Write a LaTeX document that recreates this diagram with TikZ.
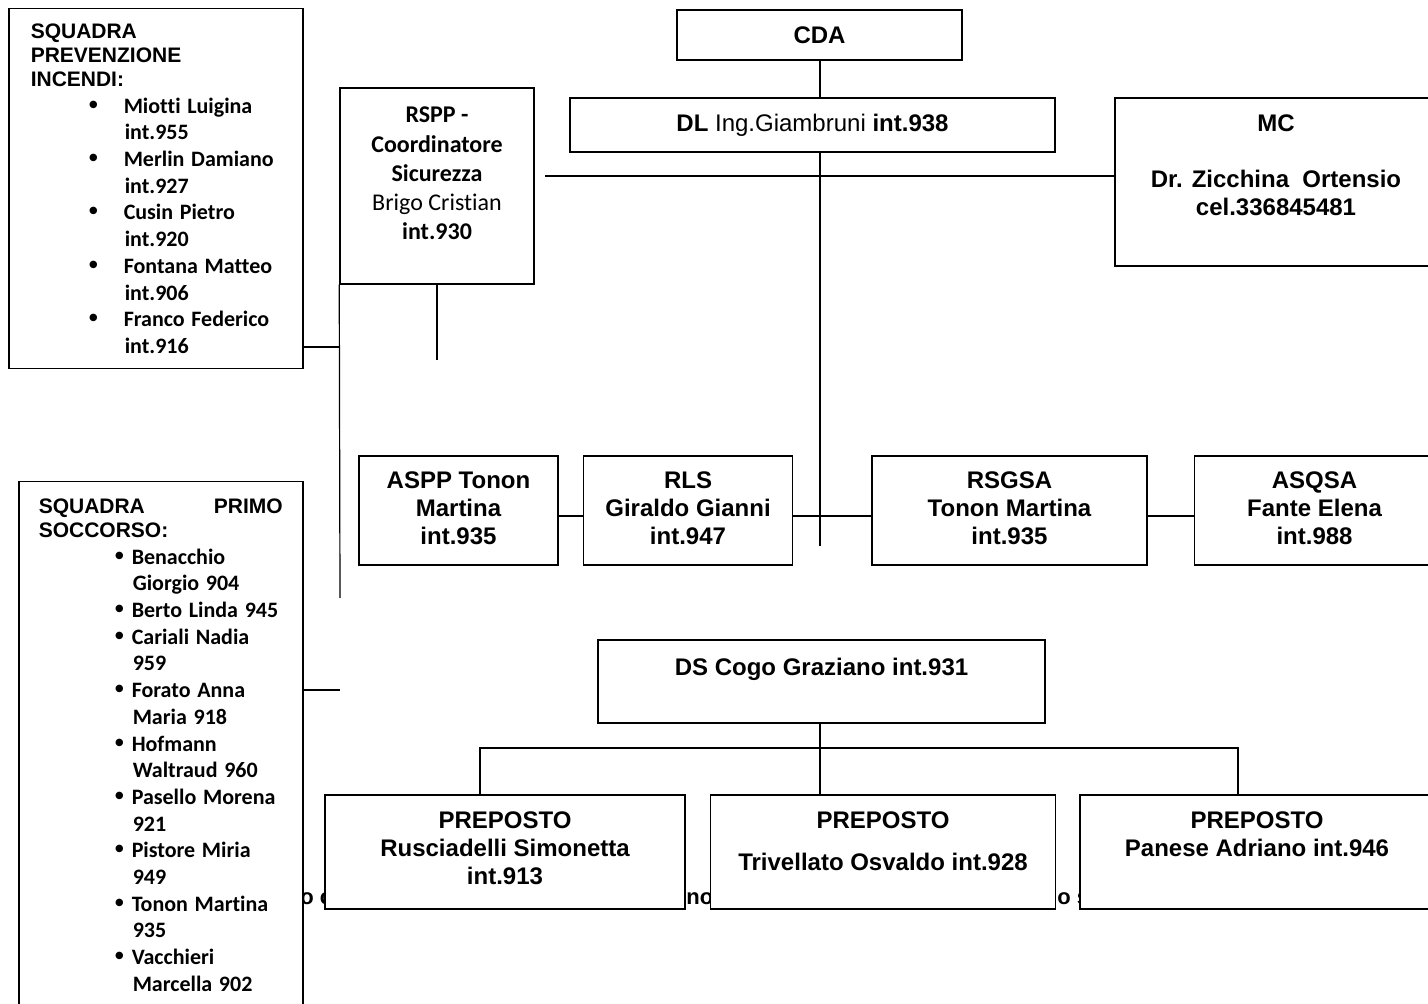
\documentclass[tikz,border=0pt]{standalone}
\usepackage{fontspec}
\setmainfont{Liberation Sans}
\newfontfamily\calibri{Carlito}[Ligatures=CommonOff]
\newfontfamily\arial{Liberation Sans}
\usetikzlibrary{positioning}
\parindent=0pt

% bullet entry (indent of the bullet) and its continuation line
\newcommand{\voce}[2]{\makebox[46.5pt][l]{\hspace*{#1}{\arial\fontsize{13}{13}\selectfont\textbullet}}#2}
\newcommand{\segue}[1]{\hspace*{47pt}#1}
\newcommand{\testa}{\fontsize{10.5}{12}\selectfont\bfseries}
% extra depth on a last line, pushes the text up in its box
\newcommand{\botpad}[1]{\rule[-#1]{0pt}{0pt}}

\begin{document}
\begin{tikzpicture}[
  x=0.5pt, y=-0.5pt,
  box/.style={rectangle, draw, line width=0.75pt, fill=white, align=center,
              inner sep=0pt, font=\fontsize{12}{14}\selectfont\bfseries},
  rowbox/.style={box, minimum height=54.5pt},
  prep/.style={box, minimum height=57pt},
  list/.style={rectangle, draw, line width=0.75pt, fill=white, anchor=north west,
               align=left},
  link/.style={line width=0.6pt},
  frag/.style={font=\fontsize{11}{13}\selectfont\bfseries, inner sep=0pt},
]
\useasboundingbox (0,0) rectangle (1428,1004);
\clip (0,0) rectangle (1428,1004);

% bits of a text line left under the preposto boxes
\node[frag, anchor=base west] (fragA) at (300,904) {o c};
\node[frag, anchor=base west] (fragB) at (686,904) {no};
\node[frag, anchor=base west] (fragC) at (1057,904) {o s};

\node[box, minimum width=142.5pt, minimum height=25pt] (cda) at (819.5,35) {CDA};
\node[box, minimum width=242.5pt, minimum height=27pt] (dl) at (812.5,125)
  {DL {\mdseries Ing.Giambruni} int.938};
\node[box, minimum width=161pt, minimum height=84pt] (mc) at (1276,182)
  {MC\\[14pt]Dr. Zicchina~ Ortensio\\cel.336845481\botpad{16.5pt}};
\node[box, font=\calibri\bfseries\fontsize{12}{14.6}\selectfont,
      minimum width=97pt, minimum height=98pt] (rspp) at (437,186)
  {RSPP -\\Coordinatore\\Sicurezza\\{\mdseries Brigo Cristian}\\int.930\botpad{12.5pt}};

\node[list, text width=125pt, inner xsep=11pt, inner ysep=7.5pt,
      minimum height=180pt] (prev) at (8,8) {%
  {\testa SQUADRA\\PREVENZIONE\\INCENDI:\par}
  {\calibri\bfseries\fontsize{11}{13.35}\selectfont
  \voce{29pt}{Miotti Luigina}\\\segue{int.955}\\
  \voce{29pt}{Merlin Damiano}\\\segue{int.927}\\
  \voce{29pt}{Cusin Pietro}\\\segue{int.920}\\
  \voce{29pt}{Fontana Matteo}\\\segue{int.906}\\
  \voce{29pt}{Franco Federico}\\\segue{int.916}\par}};

\node[list, text width=122pt, inner xsep=10pt, inner ysep=8.5pt] (socc) at (18,481) {%
  {\testa \makebox[\linewidth][s]{SQUADRA\hfill PRIMO}\\SOCCORSO:\par}
  {\calibri\bfseries\fontsize{11}{13.35}\selectfont
  \voce{38pt}{Benacchio}\\\segue{Giorgio 904}\\
  \voce{38pt}{Berto Linda 945}\\
  \voce{38pt}{Cariali Nadia}\\\segue{959}\\
  \voce{38pt}{Forato Anna}\\\segue{Maria 918}\\
  \voce{38pt}{Hofmann}\\\segue{Waltraud 960}\\
  \voce{38pt}{Pasello Morena}\\\segue{921}\\
  \voce{38pt}{Pistore Miria}\\\segue{949}\\
  \voce{38pt}{Tonon Martina}\\\segue{935}\\
  \voce{38pt}{Vacchieri}\\\segue{Marcella 902}\par}
  \vspace{8pt}};

\node[rowbox, minimum width=99.5pt] (aspp) at (458.5,510.5)
  {ASPP Tonon\\Martina\\int.935\botpad{2pt}};
\node[rowbox, minimum width=104.5pt, right=12pt of aspp] (rls)
  {RLS\\Giraldo Gianni\\int.947\botpad{2pt}};
\node[rowbox, minimum width=137.5pt, right=39pt of rls] (rsgsa)
  {RSGSA\\Tonon Martina\\int.935\botpad{2pt}};
\node[rowbox, minimum width=120pt, right=23pt of rsgsa] (asqsa)
  {ASQSA\\Fante Elena\\int.988\botpad{2pt}};

\node[box, minimum width=223.5pt, minimum height=41.5pt] (ds) at (821.5,681.5)
  {DS Cogo Graziano int.931\botpad{15pt}};
\node[prep, minimum width=180pt] (pl) at (505,852)
  {PREPOSTO\\Rusciadelli Simonetta\\int.913\botpad{4pt}};
\node[prep, minimum width=172.5pt, right=12pt of pl] (pm)
  {PREPOSTO\\[7pt]Trivellato Osvaldo int.928\botpad{11pt}};
\node[prep, minimum width=177pt, right=11.5pt of pm] (pr)
  {PREPOSTO\\Panese Adriano int.946\botpad{17.5pt}};

\coordinate (trunk) at (820,546);
\coordinate (hl) at (545,176);
\coordinate (hlA) at (777,176);
\coordinate (hlB) at (870,176);
\coordinate (rsppEnd) at (437,360);
\coordinate (vend) at (340,598);
\coordinate (tap1) at (340,347);
\coordinate (tap2) at (340,690);
\coordinate (row) at (820,516);
\coordinate (bus) at (820,748);
\coordinate (busL) at (480,748);
\coordinate (busR) at (1238,748);

\draw[link] (cda.south -| trunk) -- (dl.north -| trunk);
\draw[link] (dl.south -| trunk) -- (trunk);
\draw[link] (hl) -- (hl -| mc.west);
\draw[line width=1.3pt] (hlA) -- (hlB);
\draw[link] (rspp.south) -- (rsppEnd);
\draw[link] (rspp.south west) -- (vend);
\draw[link] (tap1 -| prev.east) -- (tap1);
\draw[link] (tap2 -| socc.east) -- (tap2);
\draw[link] (aspp.east |- row) -- (rls.west |- row);
\draw[link] (rls.east |- row) -- (rsgsa.west |- row);
\draw[link] (rsgsa.east |- row) -- (asqsa.west |- row);
\draw[link] (ds.south -| bus) -- (bus);
\draw[link] (busL |- pl.north) -- (busL) -- (busR) -- (busR |- pr.north);
\draw[link] (bus) -- (bus |- pm.north);

\end{tikzpicture}
\end{document}
